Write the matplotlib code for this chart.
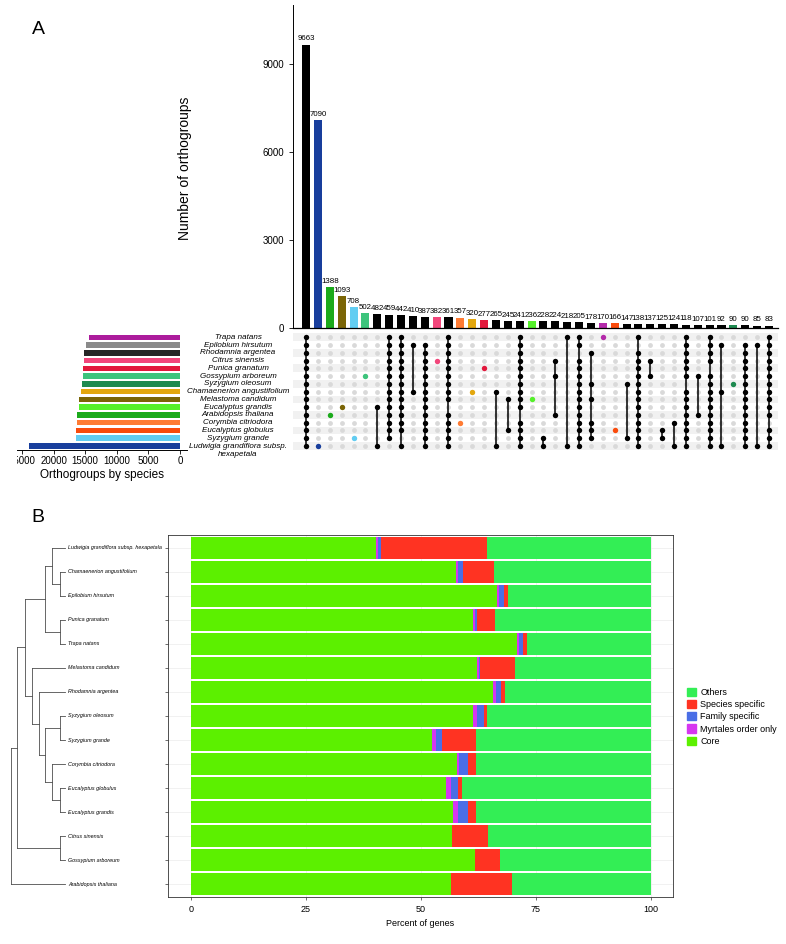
import numpy as np
import matplotlib
matplotlib.use('Agg')
import matplotlib.pyplot as plt
from matplotlib.patches import Patch
from matplotlib.transforms import Bbox, blended_transform_factory

plt.rcParams['font.family'] = ['Liberation Sans', 'DejaVu Sans']

# ---------------- panel A data ----------------
species = ['Trapa natans', 'Epilobium hirsutum', 'Rhodamnia argentea', 'Citrus sinensis',
           'Punica granatum', 'Gossypium arboreum', 'Syzygium oleosum',
           'Chamaenerion angustifolium', 'Melastoma candidum', 'Eucalyptus grandis',
           'Arabidopsis thaliana', 'Corymbia citriodora', 'Eucalyptus globulus',
           'Syzygium grande', 'Ludwigia grandiflora subsp.\nhexapetala']
species_sizes = [14350, 14870, 15140, 15240, 15300, 15400, 15500, 15660, 15980,
                 16030, 16250, 16340, 16400, 16460, 23840]
species_colors = ['#AC1C9C', '#8A8A8A', '#262626', '#F2467B', '#E2183C', '#3DC47C',
                  '#1E8A50', '#E3A70E', '#7B6506', '#55F02A', '#1BAA1B', '#FF7B33',
                  '#FA4B0C', '#62CDF2', '#183E9C']

ALL = set(range(15))
inter_counts = [9663, 7090, 1388, 1093, 708, 502, 482, 459, 442, 410, 387, 382, 361, 357,
                320, 277, 265, 245, 241, 236, 228, 224, 218, 205, 178, 170, 166, 147, 138,
                137, 125, 124, 118, 107, 101, 92, 90, 90, 85, 83]
inter_sets = [ALL, {14}, {10}, {9}, {13}, {5}, {9, 14}, ALL - {14}, ALL - {13}, {1, 7},
              ALL - {0}, {3}, ALL - {9}, {11}, {7}, {4}, {7, 14}, {8, 12}, ALL - {10}, {8},
              {13, 14}, {3, 5, 10}, {0, 14}, ALL - {2}, {2, 6, 8, 11, 12, 13}, {0}, {12},
              {6, 13}, ALL - {1}, {3, 5}, {12, 13}, {11, 14}, ALL - {6}, {5, 10}, ALL - {4},
              {1, 7, 14}, {6}, ALL - {0}, {1, 14}, ALL - {11}]
inter_colors = ['black', '#183E9C', '#1BAA1B', '#7B6506', '#62CDF2', '#3DC47C', 'black',
                'black', 'black', 'black', 'black', '#F2467B', 'black', '#FF7B33', '#E3A70E',
                '#E2183C', 'black', 'black', 'black', '#55F02A', 'black', 'black', 'black',
                'black', 'black', '#B42AAA', '#FA4B0C', 'black', 'black', 'black', 'black',
                'black', 'black', 'black', 'black', 'black', '#1E8A50', 'black', 'black',
                'black']

# ---------------- panel B data ----------------
tree_species = ['Ludwigia grandiflora subsp. hexapetala', 'Chamaenerion angustifolium',
                'Epilobium hirsutum', 'Punica granatum', 'Trapa natans',
                'Melastoma candidum', 'Rhodamnia argentea', 'Syzygium oleosum',
                'Syzygium grande', 'Corymbia citriodora', 'Eucalyptus globulus',
                'Eucalyptus grandis', 'Citrus sinensis', 'Gossypium arboreum',
                'Arabidopsis thaliana']
core = [40.2, 57.6, 66.5, 61.3, 70.9, 62.2, 65.7, 61.3, 52.4, 57.8, 55.4, 57.0, 56.7, 61.7, 56.5]
myrtales = [0.4, 0.5, 0.5, 0.5, 0.5, 0.4, 0.7, 0.9, 0.9, 0.4, 1.1, 1.1, 0.0, 0.0, 0.0]
family = [0.7, 1.0, 1.0, 0.4, 0.8, 0.2, 1.0, 1.5, 1.3, 2.0, 1.5, 2.1, 0.0, 0.0, 0.0]
specific = [23.0, 6.8, 0.9, 3.9, 0.8, 7.6, 0.9, 0.6, 7.4, 1.8, 0.9, 1.8, 7.9, 5.5, 13.3]

# node depth, children (leaves are indices into tree_species)
tree = (11, [(17, [(25, [(45, [(52, [0, (60, [1, 2])]), (60, [3, 4])]),
                         (32, [5, (39, [6, (45, [(60, [7, 8]), (52, [9, (60, [10, 11])])])])])]),
                   (60, [12, 13])]),
             14])
tip_depth = 65

W, H = 786, 944


def box(l, t, r, b):
    return [l / W, 1 - b / H, (r - l) / W, (b - t) / H]


fig = plt.figure(figsize=(W / 100, H / 100), dpi=100)

# ---- intersection bars ----
n = len(inter_counts)
xs = np.arange(n)
ax_bar = fig.add_axes(box(293, 5, 778, 328))
ax_bar.bar(xs, inter_counts, width=0.68, color=inter_colors)
for i, v in enumerate(inter_counts):
    ax_bar.annotate(str(v), (i, v), xytext=(0, 1.5), textcoords='offset points',
                    ha='center', va='bottom', fontsize=5.7)
ax_bar.set_xlim(-1.1, 39.76)
ax_bar.set_ylim(0, 11011)
ax_bar.set_yticks([0, 3000, 6000, 9000])
ax_bar.set_xticks([])
ax_bar.tick_params(axis='y', labelsize=7, length=3, width=0.6)
for s in ['top', 'right']:
    ax_bar.spines[s].set_visible(False)
ax_bar.spines['left'].set_linewidth(0.7)
ax_bar.spines['bottom'].set_linewidth(0.9)
fig.text(185 / W, 1 - 168 / H, 'Number of orthogroups', rotation=90,
         ha='center', va='center', fontsize=10)

# ---- matrix ----
ax_m = fig.add_axes(box(293, 333, 778, 450))
ax_m.set_xlim(-1.1, 39.76)
ax_m.set_ylim(14.52, -0.554)
for r in range(0, 15, 2):
    ax_m.axhspan(r - 0.5, r + 0.5, color='#F1F1F1', lw=0, zorder=0)
gx, gy = np.meshgrid(xs, np.arange(15))
ax_m.scatter(gx.ravel(), gy.ravel(), s=12, color='#D9D9D9', lw=0, zorder=1)
for i, (members, c) in enumerate(zip(inter_sets, inter_colors)):
    rows = sorted(members)
    if len(rows) > 1:
        ax_m.plot([i, i], [rows[0], rows[-1]], color='black', lw=1.1, zorder=2)
    ax_m.scatter([i] * len(rows), rows, s=15, color=c, lw=0, zorder=3)
ax_m.axis('off')

# ---- set sizes ----
ax_s = fig.add_axes(box(17, 333, 187, 450))
ax_s.barh(np.arange(15), species_sizes, height=0.7, color=species_colors)
ax_s.set_xlim(25790, -1108)
ax_s.set_ylim(14.52, -0.554)
ax_s.set_yticks([])
ax_s.set_xticks([25000, 20000, 15000, 10000, 5000, 0])
ax_s.tick_params(axis='x', labelsize=7, length=3, width=0.6, pad=1.5)
for s in ['top', 'right', 'left']:
    ax_s.spines[s].set_visible(False)
ax_s.spines['bottom'].set_linewidth(0.7)
ax_s.set_xlabel('Orthogroups by species', fontsize=8.5, labelpad=2)
clip = Bbox.from_extents(17, 0, W, H)
for lab in ax_s.get_xticklabels():
    lab.set_clip_box(clip)
    lab.set_clip_on(True)

tr = blended_transform_factory(fig.transFigure, ax_m.transData)
for r, name in enumerate(species):
    yy = r + 0.58 if '\n' in name else r
    ax_m.text(238 / W, yy, name, transform=tr, ha='center', va='center',
              fontsize=5.8, style='italic', linespacing=1.1, clip_on=False)

# ---- panel B bars ----
ax_b = fig.add_axes(box(168, 535, 673, 897))
rows_b = np.arange(len(tree_species))
core_a = np.array(core)
myrt_a = np.array(myrtales)
fam_a = np.array(family)
spec_a = np.array(specific)
others = 100 - core_a - myrt_a - fam_a - spec_a
c_core, c_myrt, c_fam, c_spec, c_oth = '#5CF000', '#D636F0', '#4A6EE6', '#FF3322', '#33EE55'
left = np.zeros(len(rows_b))
for vals, col in [(core_a, c_core), (myrt_a, c_myrt), (fam_a, c_fam),
                  (spec_a, c_spec), (others, c_oth)]:
    ax_b.barh(rows_b, vals, left=left, height=0.88, color=col, lw=0, zorder=2)
    left = left + vals
ax_b.set_xlim(-5, 104.8)
ax_b.set_ylim(14.54, -0.54)
ax_b.set_yticks(rows_b)
ax_b.set_yticklabels([])
ax_b.set_xticks([0, 25, 50, 75, 100])
ax_b.tick_params(labelsize=6.5, length=2.5, width=0.5, color='#333333')
ax_b.grid(True, color='#EBEBEB', lw=0.5, zorder=0)
ax_b.set_axisbelow(True)
for s in ax_b.spines.values():
    s.set_linewidth(0.6)
    s.set_color('#333333')
ax_b.set_xlabel('Percent of genes', fontsize=6.5, labelpad=3)

fig.legend(handles=[Patch(color=c_oth, label='Others'),
                    Patch(color=c_spec, label='Species specific'),
                    Patch(color=c_fam, label='Family specific'),
                    Patch(color=c_myrt, label='Myrtales order only'),
                    Patch(color=c_core, label='Core')],
           loc='upper left', bbox_to_anchor=(683 / W, 1 - 684 / H), frameon=False,
           fontsize=6.5, handlelength=1.0, handleheight=1.0, labelspacing=0.35,
           handletextpad=0.5, borderaxespad=0)

# ---- tree ----
ax_t = fig.add_axes(box(0, 535, 168, 897))
ax_t.set_xlim(0, 168)
ax_t.set_ylim(14.54, -0.54)
ax_t.axis('off')
tree_col = '#4D4D4D'


def draw(node, parent_x):
    if isinstance(node, int):
        ax_t.plot([parent_x, tip_depth], [node, node], color=tree_col, lw=0.6)
        ax_t.text(tip_depth + 3, node, tree_species[node], fontsize=3.9,
                  style='italic', va='center', ha='left')
        return node
    d, kids = node
    ys = [draw(k, d) for k in kids]
    ax_t.plot([d, d], [min(ys), max(ys)], color=tree_col, lw=0.6)
    y = (min(ys) + max(ys)) / 2
    if parent_x is not None:
        ax_t.plot([parent_x, d], [y, y], color=tree_col, lw=0.6)
    return y


draw(tree, None)

fig.text(38 / W, 1 - 30 / H, 'A', fontsize=14, ha='center', va='center')
fig.text(38 / W, 1 - 518 / H, 'B', fontsize=14, ha='center', va='center')

fig.savefig('out.png', dpi=100)
